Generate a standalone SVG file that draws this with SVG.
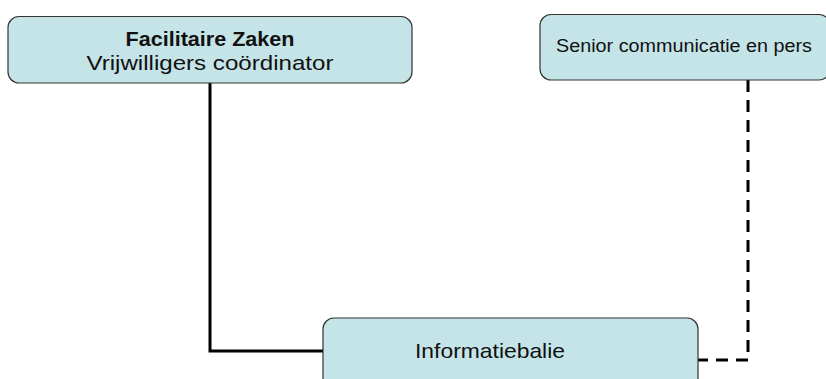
<svg xmlns="http://www.w3.org/2000/svg" width="826" height="379" viewBox="0 0 826 379">
<style>
.box{fill:#c5e4e8;stroke:#333;stroke-width:1.2}
.t{font-family:"Liberation Sans","DejaVu Sans",sans-serif;fill:#111;text-anchor:middle}
.b{font-weight:bold}
.c{fill:none;stroke:#000;stroke-width:3}
.d{stroke-dasharray:12 8}
</style>
<rect width="826" height="379" fill="#fff"/>
<g id="connectors">
<path class="c" d="M210,83 V351 H323"/>
<path class="c d" d="M748,80 V360 H697"/>
</g>
<g id="facilitaire">
<rect class="box" x="8" y="16.5" width="404" height="66.5" rx="11"/>
<text class="t b" x="210" y="46" font-size="20" textLength="169" lengthAdjust="spacingAndGlyphs">Facilitaire Zaken</text>
<text class="t" x="210" y="70" font-size="21" textLength="247" lengthAdjust="spacingAndGlyphs">Vrijwilligers coördinator</text>
</g>
<g id="senior">
<rect class="box" x="540" y="14.5" width="290" height="65.5" rx="11"/>
<text class="t" x="684" y="52" font-size="18" textLength="256" lengthAdjust="spacingAndGlyphs">Senior communicatie en pers</text>
</g>
<g id="informatiebalie">
<rect class="box" x="323" y="318" width="375" height="80" rx="11"/>
<text class="t" x="490" y="358" font-size="21" textLength="150" lengthAdjust="spacingAndGlyphs">Informatiebalie</text>
</g>
</svg>
